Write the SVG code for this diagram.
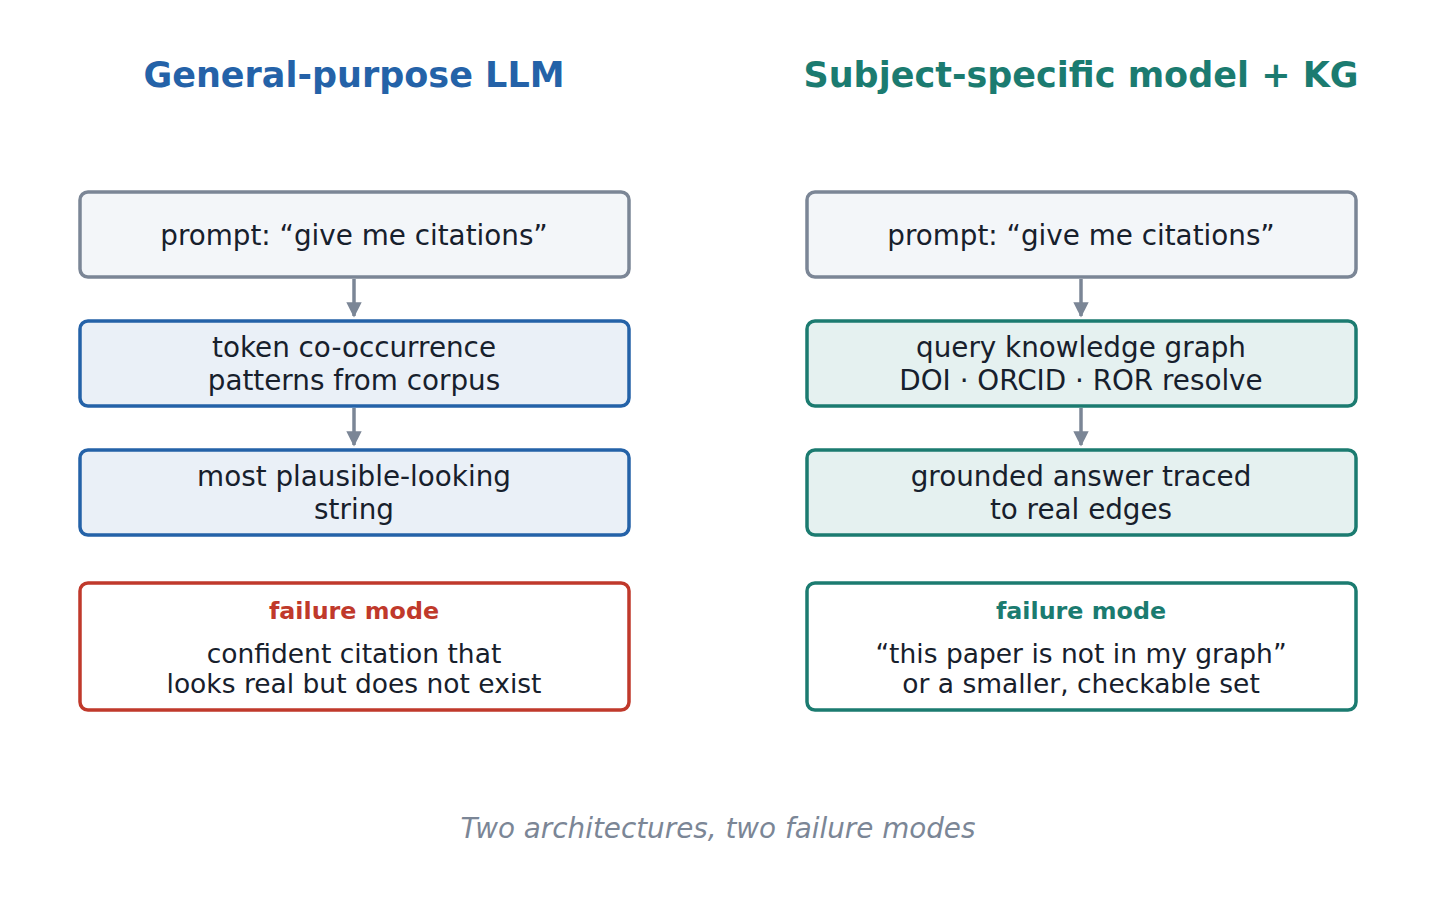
<svg xmlns="http://www.w3.org/2000/svg" width="1436" height="903" viewBox="0 0 1436 903">
<style>
text{font-family:"DejaVu Sans","Liberation Sans",sans-serif;text-anchor:middle}
.title{font-size:35px;font-weight:bold}
.body{font-size:27.8px;fill:#17202c}
.fb{font-size:26.5px;fill:#17202c}
.fm{font-size:23.8px;font-weight:bold}
.box{stroke-width:3.5}
.g{fill:#f3f6f9;stroke:#7b8696}
.b{fill:#eaf0f7;stroke:#2462a8}
.t{fill:#e5f1f0;stroke:#1b7b70}
.r{fill:#ffffff;stroke:#c0392b}
.tw{fill:#ffffff;stroke:#1b7b70}
.conn{stroke:#7b8696;stroke-width:3.5;fill:none}
</style>
<defs>
<marker id="ah" viewBox="0 0 10 10" refX="9" refY="5" markerWidth="4.4" markerHeight="4.6" markerUnits="strokeWidth" orient="auto">
<path d="M0,0 L10,5 L0,10 z" fill="#7b8696"/>
</marker>
</defs>
<rect width="1436" height="903" fill="#ffffff"/>
<text class="title" x="354" y="87" fill="#2462a8">General-purpose LLM</text>
<text class="title" x="1081" y="87" fill="#1b7b70">Subject-specific model + KG</text>

<g id="connectors">
<line class="conn" x1="354" y1="279" x2="354" y2="316" marker-end="url(#ah)"/>
<line class="conn" x1="354" y1="408" x2="354" y2="445" marker-end="url(#ah)"/>
<line class="conn" x1="1081" y1="279" x2="1081" y2="316" marker-end="url(#ah)"/>
<line class="conn" x1="1081" y1="408" x2="1081" y2="445" marker-end="url(#ah)"/>
</g>

<g id="l-prompt">
<rect class="box g" x="80" y="192" width="549" height="85" rx="8"/>
<text class="body" x="354" y="245">prompt: “give me citations”</text>
</g>
<g id="l-token">
<rect class="box b" x="80" y="321" width="549" height="85" rx="8"/>
<text class="body" x="354" y="357">token co-occurrence</text>
<text class="body" x="354" y="390">patterns from corpus</text>
</g>
<g id="l-string">
<rect class="box b" x="80" y="450" width="549" height="85" rx="8"/>
<text class="body" x="354" y="486">most plausible-looking</text>
<text class="body" x="354" y="519">string</text>
</g>
<g id="l-failure">
<rect class="box r" x="80" y="583" width="549" height="127" rx="8"/>
<text class="fm" x="354" y="619" fill="#c0392b">failure mode</text>
<text class="fb" x="354" y="663">confident citation that</text>
<text class="fb" x="354" y="693">looks real but does not exist</text>
</g>

<g id="r-prompt">
<rect class="box g" x="807" y="192" width="549" height="85" rx="8"/>
<text class="body" x="1081" y="245">prompt: “give me citations”</text>
</g>
<g id="r-query">
<rect class="box t" x="807" y="321" width="549" height="85" rx="8"/>
<text class="body" x="1081" y="357">query knowledge graph</text>
<text class="body" x="1081" y="390">DOI · ORCID · ROR resolve</text>
</g>
<g id="r-grounded">
<rect class="box t" x="807" y="450" width="549" height="85" rx="8"/>
<text class="body" x="1081" y="486">grounded answer traced</text>
<text class="body" x="1081" y="519">to real edges</text>
</g>
<g id="r-failure">
<rect class="box tw" x="807" y="583" width="549" height="127" rx="8"/>
<text class="fm" x="1081" y="619" fill="#1b7b70">failure mode</text>
<text class="fb" x="1081" y="663">“this paper is not in my graph”</text>
<text class="fb" x="1081" y="693">or a smaller, checkable set</text>
</g>

<text x="718" y="838" font-size="27.8" font-style="italic" fill="#7b8696">Two architectures, two failure modes</text>
</svg>
